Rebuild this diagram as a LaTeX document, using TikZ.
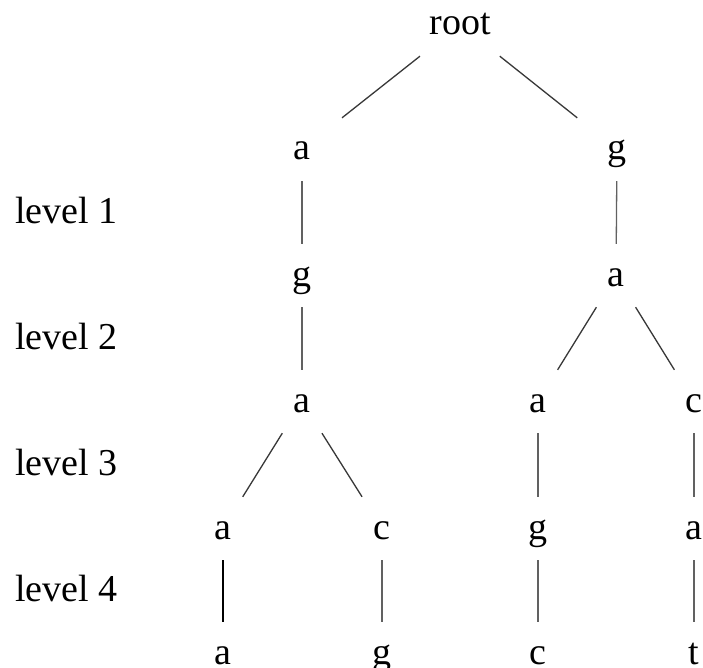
\documentclass[tikz,border=0pt]{standalone}
\usepackage{fontspec}
\setmainfont{Liberation Serif}
\begin{document}
\begin{tikzpicture}[x=1pt,y=-1pt,
  lbl/.style={font=\fontsize{38}{40}\selectfont, inner sep=0pt, text height=42pt, text depth=21pt, minimum width=120pt, anchor=base},
  leaf/.style={lbl, text depth=0pt},
  lvl/.style={font=\fontsize{38}{40}\selectfont, inner sep=0pt, anchor=base west},
  edge/.style={draw=black!78, line width=1.3pt},
  vedge/.style={draw=black!62, line width=1.3pt},
  dedge/.style={draw=black, line width=1.3pt}]
\fill[white] (0,0) rectangle (703,668);
\useasboundingbox (0,0) rectangle (703,668);
% tree nodes
\node[lbl] (r) at (460,35) {root};
\node[lbl] (a1) at (302,160) {a};
\node[lbl] (g1) at (617,160) {g};
\node[lbl] (g2) at (302,286) {g};
\node[lbl] (a2) at (616,286) {a};
\node[lbl] (a3) at (302,412) {a};
\node[lbl] (a3m) at (538,412) {a};
\node[lbl] (c3) at (694,412) {c};
\node[lbl] (a4) at (223,539) {a};
\node[lbl] (c4) at (382,539) {c};
\node[lbl] (g4) at (538,539) {g};
\node[lbl] (a4r) at (694,539) {a};
\node[leaf] (a5) at (223,664) {a};
\node[leaf] (g5) at (382,664) {g};
\node[leaf] (c5) at (538,664) {c};
\node[leaf] (t5) at (694,664) {t};
% level labels
\node[lvl] (l1) at (15,223) {level 1};
\node[lvl] (l2) at (15,349) {level 2};
\node[lvl] (l3) at (15,475) {level 3};
\node[lvl] (l4) at (15,601) {level 4};
% connectors
\path[edge] (r) -- (a1);
\path[edge] (r) -- (g1);
\path[vedge] (a1) -- (g2);
\path[vedge] (g1) -- (a2);
\path[vedge] (g2) -- (a3);
\path[edge] (a2) -- (a3m);
\path[edge] (a2) -- (c3);
\path[edge] (a3) -- (a4);
\path[edge] (a3) -- (c4);
\path[vedge] (a3m) -- (g4);
\path[vedge] (c3) -- (a4r);
\path[dedge] (a4) -- (a5);
\path[vedge] (c4) -- (g5);
\path[vedge] (g4) -- (c5);
\path[vedge] (a4r) -- (t5);
\end{tikzpicture}
\end{document}
